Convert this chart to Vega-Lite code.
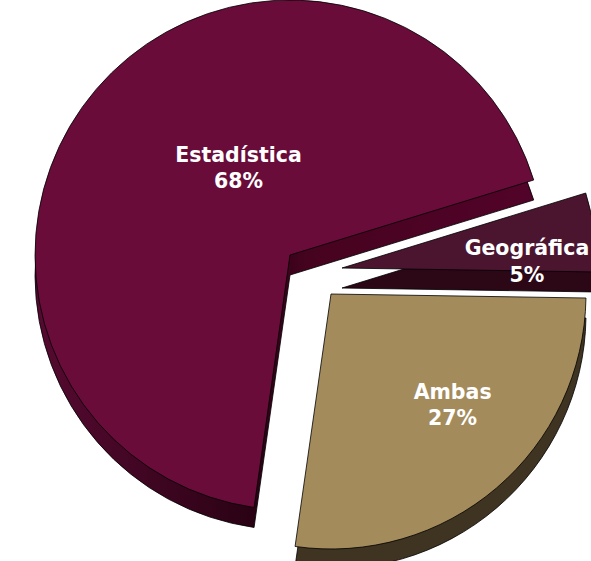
{
  "$schema": "https://vega.github.io/schema/vega-lite/v6.json",
  "width": 591,
  "height": 561,
  "padding": 0,
  "autosize": "none",
  "background": "white",
  "config": {"view": {"stroke": null}},
  "data": {
    "values": [
      {"categoria": "Estadística", "porcentaje": 0.68},
      {"categoria": "Geográfica", "porcentaje": 0.05},
      {"categoria": "Ambas", "porcentaje": 0.27}
    ]
  },
  "encoding": {
    "theta": {"field": "porcentaje", "type": "quantitative", "stack": true, "scale": {"domain": [0, 1], "range": [1.5865, 7.8697]}},
    "order": {"field": "categoria", "type": "ordinal", "sort": "ascending"}
  },
  "layer": [
    {
      "mark": {"type": "arc", "radius": 255, "xOffset": -5.5, "yOffset": -5.5, "clip": true, "stroke": "#000000", "strokeWidth": 0.8,
        "fill": {"gradient": "linear", "x1": 0, "y1": 0, "x2": 1, "y2": 0, "stops": [
          {"offset": 0, "color": "#560a31"}, {"offset": 0.44, "color": "#2a0214"}, {"offset": 0.55, "color": "#46031f"}, {"offset": 1, "color": "#520329"}]}},
      "encoding": {"opacity": {"condition": {"test": "datum.categoria === 'Estadística'", "value": 1}, "value": 0}}
    },
    {
      "mark": {"type": "arc", "radius": 255, "xOffset": 46.5, "yOffset": 7.5, "clip": true, "stroke": "#000000", "strokeWidth": 0.8, "fill": "#2c0816"},
      "encoding": {"opacity": {"condition": {"test": "datum.categoria === 'Geográfica'", "value": 1}, "value": 0}}
    },
    {
      "mark": {"type": "arc", "radius": 255, "xOffset": 35.5, "yOffset": 33.5, "clip": true, "stroke": "#000000", "strokeWidth": 0.8, "fill": "#3f3422"},
      "encoding": {"opacity": {"condition": {"test": "datum.categoria === 'Ambas'", "value": 1}, "value": 0}}
    },
    {
      "mark": {"type": "arc", "radius": 255, "xOffset": -5.5, "yOffset": -25.5, "clip": true, "stroke": "#000000", "strokeWidth": 0.8, "fill": "#6a0c3a"},
      "encoding": {"opacity": {"condition": {"test": "datum.categoria === 'Estadística'", "value": 1}, "value": 0}}
    },
    {
      "mark": {"type": "arc", "radius": 255, "xOffset": 46.5, "yOffset": -12.5, "clip": true, "stroke": "#000000", "strokeWidth": 0.8, "fill": "#4b1530"},
      "encoding": {"opacity": {"condition": {"test": "datum.categoria === 'Geográfica'", "value": 1}, "value": 0}}
    },
    {
      "mark": {"type": "arc", "radius": 255, "xOffset": 35.5, "yOffset": 13.5, "clip": true, "stroke": "#000000", "strokeWidth": 0.8, "fill": "#a38b5c"},
      "encoding": {"opacity": {"condition": {"test": "datum.categoria === 'Ambas'", "value": 1}, "value": 0}}
    },
    {
      "mark": {"type": "text", "radius": 96, "xOffset": -5.5, "yOffset": -25.5, "dx": 21.5, "dy": -30.7, "font": "DejaVu Sans", "fontWeight": "bold", "fontSize": 20.5, "fill": "white", "align": "center", "baseline": "alphabetic"},
      "encoding": {"text": {"field": "categoria", "type": "nominal"}, "opacity": {"condition": {"test": "datum.categoria === 'Estadística'", "value": 1}, "value": 0}}
    },
    {
      "mark": {"type": "text", "radius": 96, "xOffset": -5.5, "yOffset": -25.5, "dx": 21.5, "dy": -4.7, "font": "DejaVu Sans", "fontWeight": "bold", "fontSize": 20.5, "fill": "white", "align": "center", "baseline": "alphabetic"},
      "encoding": {"text": {"field": "porcentaje", "type": "quantitative", "format": ".0%"}, "opacity": {"condition": {"test": "datum.categoria === 'Estadística'", "value": 1}, "value": 0}}
    },
    {
      "mark": {"type": "text", "radius": 185, "xOffset": 46.5, "yOffset": -12.5, "dx": 1.8, "dy": 13.1, "font": "DejaVu Sans", "fontWeight": "bold", "fontSize": 20.5, "fill": "white", "align": "center", "baseline": "alphabetic"},
      "encoding": {"text": {"field": "categoria", "type": "nominal"}, "opacity": {"condition": {"test": "datum.categoria === 'Geográfica'", "value": 1}, "value": 0}}
    },
    {
      "mark": {"type": "text", "radius": 185, "xOffset": 46.5, "yOffset": -12.5, "dx": 1.8, "dy": 40.1, "font": "DejaVu Sans", "fontWeight": "bold", "fontSize": 20.5, "fill": "white", "align": "center", "baseline": "alphabetic"},
      "encoding": {"text": {"field": "porcentaje", "type": "quantitative", "format": ".0%"}, "opacity": {"condition": {"test": "datum.categoria === 'Geográfica'", "value": 1}, "value": 0}}
    },
    {
      "mark": {"type": "text", "radius": 160, "xOffset": 35.5, "yOffset": 13.5, "dx": 17.7, "dy": -16.6, "font": "DejaVu Sans", "fontWeight": "bold", "fontSize": 20.5, "fill": "white", "align": "center", "baseline": "alphabetic"},
      "encoding": {"text": {"field": "categoria", "type": "nominal"}, "opacity": {"condition": {"test": "datum.categoria === 'Ambas'", "value": 1}, "value": 0}}
    },
    {
      "mark": {"type": "text", "radius": 160, "xOffset": 35.5, "yOffset": 13.5, "dx": 17.7, "dy": 9.4, "font": "DejaVu Sans", "fontWeight": "bold", "fontSize": 20.5, "fill": "white", "align": "center", "baseline": "alphabetic"},
      "encoding": {"text": {"field": "porcentaje", "type": "quantitative", "format": ".0%"}, "opacity": {"condition": {"test": "datum.categoria === 'Ambas'", "value": 1}, "value": 0}}
    }
  ]
}
